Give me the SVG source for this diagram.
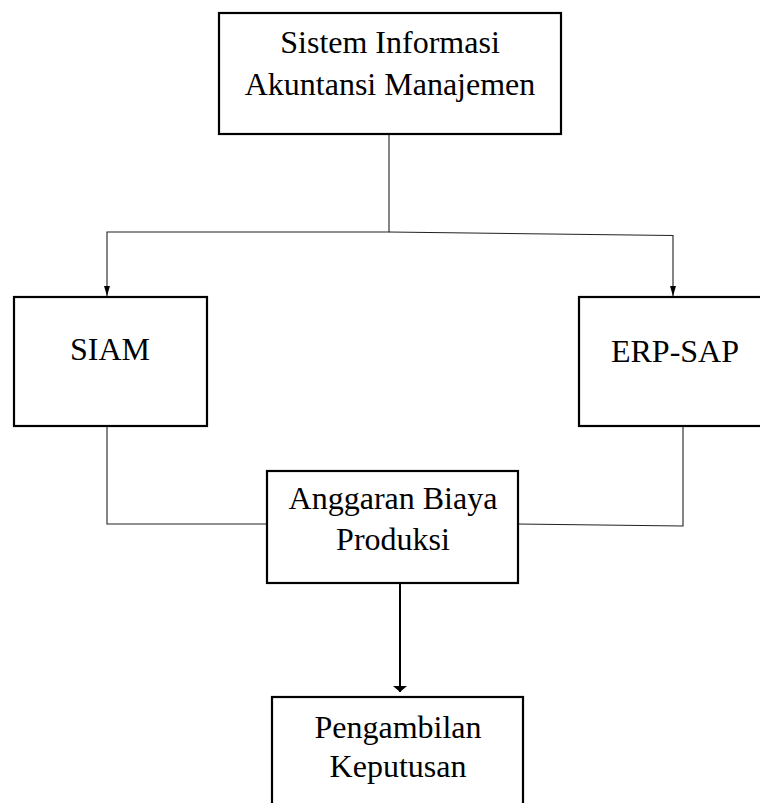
<svg xmlns="http://www.w3.org/2000/svg" width="760" height="803" viewBox="0 0 760 803">
<style>
.box{fill:#fff;stroke:#000;stroke-width:2.2}
.t{font-family:"Liberation Serif","Times New Roman",serif;font-size:32px;fill:#000;text-anchor:middle}
.ln{fill:none;stroke:#222;stroke-width:1.1}
.thick{fill:none;stroke:#000;stroke-width:2}
</style>
<defs>
<marker id="ah" viewBox="0 0 10 6" refX="10" refY="3" markerWidth="10" markerHeight="6" markerUnits="userSpaceOnUse" orient="auto">
<path d="M0,0 L10,3 L0,6 Z" fill="#000"/>
</marker>
<marker id="ah2" viewBox="0 0 6 14" refX="6" refY="7" markerWidth="6" markerHeight="14" markerUnits="userSpaceOnUse" orient="auto">
<path d="M0,0 L6,7 L0,14 Z" fill="#000"/>
</marker>
</defs>
<g id="connectors">
<polyline class="ln" points="389,134 389,232 107,232 107,296" marker-end="url(#ah)"/>
<polyline class="ln" points="389,232 673,235.5 673,296" marker-end="url(#ah)"/>
<polyline class="ln" points="107,426 107,524 267,524"/>
<polyline class="ln" points="683,426 683,526 517,524"/>
<line class="thick" x1="400" y1="583" x2="400" y2="692" marker-end="url(#ah2)"/>
</g>
<g id="node-siam-top">
<rect class="box" x="219" y="13" width="342" height="121"/>
<text class="t" x="390" y="53">Sistem Informasi</text>
<text class="t" x="390" y="95">Akuntansi Manajemen</text>
</g>
<g id="node-siam">
<rect class="box" x="14" y="297" width="193" height="129"/>
<text class="t" x="110" y="360">SIAM</text>
</g>
<g id="node-erp">
<rect class="box" x="579" y="297" width="200" height="129"/>
<text class="t" x="675" y="362">ERP-SAP</text>
</g>
<g id="node-anggaran">
<rect class="box" x="267" y="471" width="251" height="112"/>
<text class="t" x="393" y="509">Anggaran Biaya</text>
<text class="t" x="393" y="550">Produksi</text>
</g>
<g id="node-keputusan">
<rect class="box" x="272" y="697" width="251" height="130"/>
<text class="t" x="398" y="738">Pengambilan</text>
<text class="t" x="398" y="777">Keputusan</text>
</g>
</svg>
